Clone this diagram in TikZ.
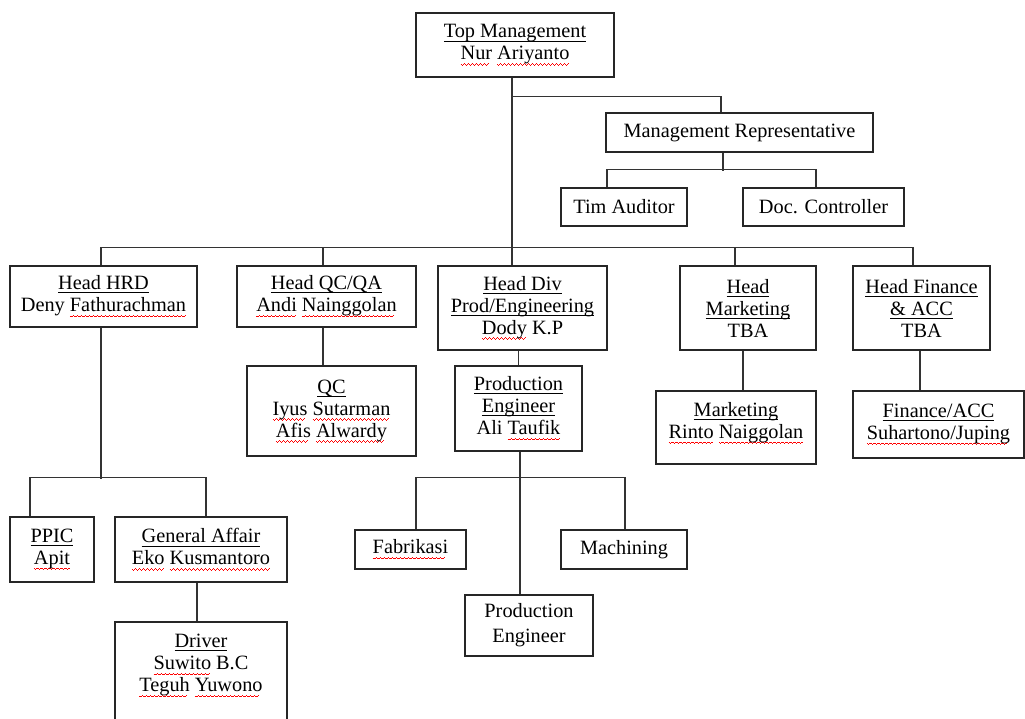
\documentclass[tikz,border=0pt]{standalone}
\usepackage{fontspec}
\setmainfont{Liberation Serif}
\newcommand\ttl[1]{\setbox0\hbox{#1}\rlap{\rule[-3.6pt]{\wd0}{1pt}}\box0\relax}
\newcommand\spell[1]{\setbox0\hbox{#1}\rlap{\textcolor{red}{\leaders\hbox{\rule[-4.6pt]{1pt}{0.8pt}\rule[-5.4pt]{1pt}{0.8pt}\rule[-4.6pt]{1pt}{0.8pt}\rule[-3.8pt]{1pt}{0.8pt}}\hskip\wd0}}\box0\relax}

\begin{document}
\begin{tikzpicture}[x=1pt,y=-1pt,font=\fontsize{20.3}{22}\selectfont,
  box/.style 2 args={draw=black!85,line width=1.2pt,minimum width=#1,minimum height=#2,inner sep=0pt,align=center},
  wire/.style={draw=black!80,line width=1.2pt}]
\useasboundingbox (0,0) rectangle (1025,718);
\node[box={198}{64}] (a1) at (515,45) {\ttl{Top Management}\\\spell{Nur} \spell{Ariyanto}};
\node[box={267}{39}] (b1) at (739.5,132.5) {Management Representative};
\node[box={126}{38}] (c1) at (624,207) {Tim Auditor};
\node[box={161}{38}] (c2) at (823.5,207) {Doc. Controller};
\node[box={187}{61}] (d1) at (103.5,296.5) {\ttl{Head HRD}\\Deny \spell{Fathurachman}};
\node[box={179}{61}] (d2) at (326.5,296.5) {\ttl{Head QC/QA}\\\spell{Andi} \spell{Nainggolan}};
\node[box={169}{84}] (d3) at (522.5,308) {\ttl{Head Div}\\\ttl{Prod/Engineering}\\\spell{Dody} K.P};
\node[box={136}{84}] (d4) at (748,308) {\ttl{Head}\\\ttl{Marketing}\\TBA};
\node[box={137}{84}] (d5) at (921.5,308) {\ttl{Head Finance}\\\ttl{\& ACC}\\TBA};
\node[box={169}{90}] (e1) at (331.5,411) {\ttl{QC}\\\spell{Iyus} \spell{Sutarman}\\\spell{Afis} \spell{Alwardy}};
\node[box={127}{85}] (e2) at (518.5,408.5) {\ttl{Production}\\\ttl{Engineer}\\Ali \spell{Taufik}};
\node[box={160}{73}] (e3) at (736,427.5) {\ttl{Marketing}\\\spell{Rinto} \spell{Naiggolan}\\[-8pt]\mbox{}};
\node[box={171}{67}] (e4) at (938.5,424.5) {\ttl{Finance/ACC}\\\spell{Suhartono/Juping}};
\node[box={84}{65}] (f1) at (52,549.5) {\ttl{PPIC}\\\spell{Apit}};
\node[box={172}{65}] (f2) at (201,549.5) {\ttl{General Affair}\\\spell{Eko} \spell{Kusmantoro}};
\node[box={111}{39}] (f3) at (410.5,549.5) {\spell{Fabrikasi}};
\node[box={126}{39}] (f4) at (624,549.5) {Machining};
\node[box={172}{126}] (g1) at (201,685) {\ttl{Driver}\\\spell{Suwito} B.C\\\spell{Teguh} \spell{Yuwono}\\[22pt]\mbox{}};
\node[box={128}{61}] (g2) at (529,625.5) {Production\\[3pt]Engineer};
\draw[wire] ([xshift=-3pt]a1.south) -- ([xshift=-10.5pt]d3.north);
\draw[wire] ([xshift=-3pt]a1.south) ++(0,19) -| ([xshift=-18.5pt]b1.north);
\draw[wire] ([xshift=-16.5pt]b1.south) -- ++(0,18);
\draw[wire] ([xshift=-17pt]c1.north) -- ++(0,-18) -| ([xshift=-7.5pt]c2.north);
\draw[wire] ([xshift=-2.5pt]d1.north) -- ++(0,-18) -| ([xshift=-8.5pt]d5.north);
\draw[wire] ([xshift=-3.5pt]d2.north) -- ++(0,-18);
\draw[wire] ([xshift=-13pt]d4.north) -- ++(0,-18);
\draw[wire] ([xshift=-2.5pt]d1.south) -- ++(0,151);
\draw[wire] ([xshift=-22pt]f1.north) -- ++(0,-39) -| ([xshift=5pt]f2.north);
\draw[wire] ([xshift=-4pt]f2.south) -- ([xshift=-4pt]g1.north);
\draw[wire] ([xshift=-3.5pt]d2.south) -- ([xshift=-8.5pt]e1.north);
\draw[wire] ([xshift=-4pt]d3.south) -- (e2.north);
\draw[wire] ([xshift=1.5pt]e2.south) -- ([xshift=-9pt]g2.north);
\draw[wire] ([xshift=5.5pt]f3.north) -- ++(0,-52) -| ([xshift=1pt]f4.north);
\draw[wire] ([xshift=-5pt]d4.south) -- ([xshift=7pt]e3.north);
\draw[wire] ([xshift=-1.5pt]d5.south) -- ([xshift=-18.5pt]e4.north);
\end{tikzpicture}
\end{document}
